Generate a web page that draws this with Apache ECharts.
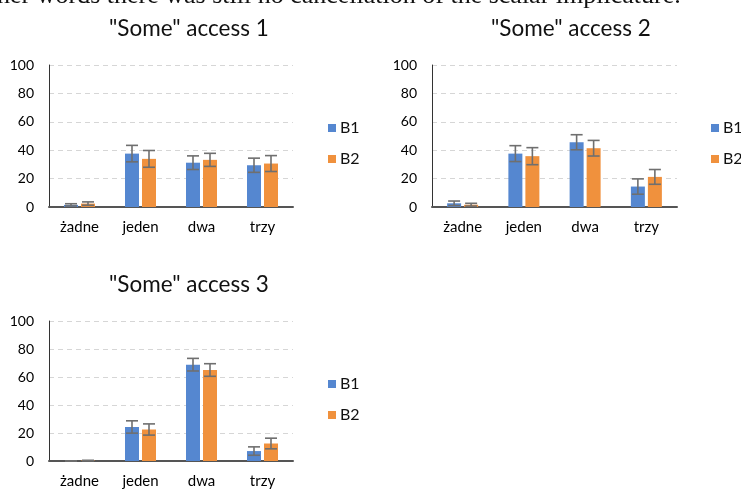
<!DOCTYPE html>
<html>
<head>
<meta charset="utf-8">
<script src="https://cdn.jsdelivr.net/npm/echarts@6/dist/echarts.min.js"></script>
<style>
  html, body { margin: 0; padding: 0; background: #ffffff; }
  #chart { width: 741px; height: 489px; }
</style>
</head>
<body>
<div id="chart"></div>
<script>
// Categories and tick values shared by the three panels
var categories = ['żadne', 'jeden', 'dwa', 'trzy'];
var yTicks = [0, 20, 40, 60, 80, 100];
var titles = ['"Some" access 1', '"Some" access 2', '"Some" access 3'];
var seriesNames = ['B1', 'B2'];

// Panel 1 means and error half-widths
var access1B1 = [1.5, 37.6, 31.2, 29.4];
var access1B1Err = [0.8, 5.8, 4.8, 5.0];
var access1B2 = [2.4, 33.9, 33.2, 30.6];
var access1B2Err = [1.2, 5.9, 4.6, 5.6];

// Panel 2
var access2B1 = [2.6, 37.6, 45.6, 14.4];
var access2B1Err = [1.6, 5.6, 5.3, 5.4];
var access2B2 = [1.6, 35.8, 41.4, 21.2];
var access2B2Err = [1.0, 6.0, 5.5, 5.2];

// Panel 3
var access3B1 = [0, 24.3, 68.8, 7.1];
var access3B1Err = [0, 4.4, 4.5, 3.0];
var access3B2 = [0.3, 22.5, 65.0, 12.5];
var access3B2Err = [0.2, 4.0, 4.5, 3.8];

var panels = [
  { b1: access1B1, e1: access1B1Err, b2: access1B2, e2: access1B2Err },
  { b1: access2B1, e1: access2B1Err, b2: access2B2, e2: access2B2Err },
  { b1: access3B1, e1: access3B1Err, b2: access3B2, e2: access3B2Err }
];

var BLUE = '#5587d0';
var ORANGE = '#f0913d';
var ERR = '#6f6f6f';
var BAR_W = 14;
var BAR_GAP = 3;
var FONT = 'Lato, "Open Sans", sans-serif';

var grids = [
  { left: 49, top: 65, width: 244, height: 142 },
  { left: 432, top: 65, width: 245, height: 142 },
  { left: 49, top: 321, width: 244, height: 141 }
];

function errorData(vals, errs) {
  return vals.map(function (v, i) { return [i, Math.max(0, v - errs[i]), v + errs[i]]; });
}

function errorRenderer(offset) {
  return function (params, api) {
    var lo = api.coord([api.value(0), api.value(1)]);
    var hi = api.coord([api.value(0), api.value(2)]);
    var cx = lo[0] + offset;
    var hw = 6;
    var style = { stroke: ERR, lineWidth: 1.6 };
    return {
      type: 'group',
      children: [
        { type: 'line', shape: { x1: cx, y1: lo[1], x2: cx, y2: hi[1] }, style: style },
        { type: 'line', shape: { x1: cx - hw, y1: hi[1], x2: cx + hw, y2: hi[1] }, style: style },
        { type: 'line', shape: { x1: cx - hw, y1: lo[1], x2: cx + hw, y2: lo[1] }, style: style }
      ]
    };
  };
}

var xAxes = [], yAxes = [], series = [], titleList = [], legends = [];
var titleLeft = [109, 491, 109];
var titleTop = [17, 17, 273];
var legendPos = [[328, 120], [711, 120], [328, 376]];
var off = (BAR_W + BAR_GAP) / 2;

panels.forEach(function (p, k) {
  xAxes.push({
    type: 'category', gridIndex: k, data: categories,
    axisTick: { show: false },
    axisLine: { lineStyle: { color: '#555555', width: 2 } },
    axisLabel: { fontFamily: FONT, fontSize: 15, color: '#000', margin: 13 }
  });
  yAxes.push({
    type: 'value', gridIndex: k, min: yTicks[0], max: yTicks[yTicks.length - 1], interval: 20,
    axisLine: { show: true, lineStyle: { color: '#333333', width: 1 } },
    axisTick: { show: false },
    splitLine: { lineStyle: { color: '#d6d6d6', type: [5, 4], width: 1 } },
    axisLabel: { fontFamily: FONT, fontSize: 14, color: '#000', margin: 15 }
  });
  series.push({
    type: 'bar', name: seriesNames[0], xAxisIndex: k, yAxisIndex: k, data: p.b1,
    barWidth: BAR_W, barGap: (BAR_GAP / BAR_W * 100) + '%', itemStyle: { color: BLUE }
  });
  series.push({
    type: 'bar', name: seriesNames[1], xAxisIndex: k, yAxisIndex: k, data: p.b2,
    barWidth: BAR_W, itemStyle: { color: ORANGE }
  });
  series.push({
    type: 'custom', xAxisIndex: k, yAxisIndex: k, data: errorData(p.b1, p.e1),
    renderItem: errorRenderer(-off), encode: { x: 0, y: [1, 2] }, z: 5
  });
  series.push({
    type: 'custom', xAxisIndex: k, yAxisIndex: k, data: errorData(p.b2, p.e2),
    renderItem: errorRenderer(off), encode: { x: 0, y: [1, 2] }, z: 5
  });
  titleList.push({
    text: titles[k], left: titleLeft[k], top: titleTop[k], padding: 0,
    textStyle: { fontFamily: FONT, fontSize: 22.5, fontWeight: 'normal', color: '#111' }
  });
  legends.push({
    data: seriesNames, orient: 'vertical', left: legendPos[k][0], top: legendPos[k][1],
    padding: 0, itemWidth: 8, itemHeight: 8, itemGap: 15, icon: 'rect',
    textStyle: { fontFamily: FONT, fontSize: 16, lineHeight: 16, color: '#111', padding: [0, 0, 0, -1] }
  });
});

var chart = echarts.init(document.getElementById('chart'), null, { renderer: 'canvas' });
chart.setOption({
  backgroundColor: '#ffffff',
  animation: false,
  title: titleList,
  legend: legends,
  grid: grids,
  xAxis: xAxes,
  yAxis: yAxes,
  series: series,
  graphic: [{
    type: 'text', left: -3, top: -17,
    style: {
      text: 'her words there was still no cancellation of the scalar implicature.',
      font: '26px "Liberation Serif", "DejaVu Serif", serif', fill: '#111'
    }
  }]
});
</script>
</body>
</html>
